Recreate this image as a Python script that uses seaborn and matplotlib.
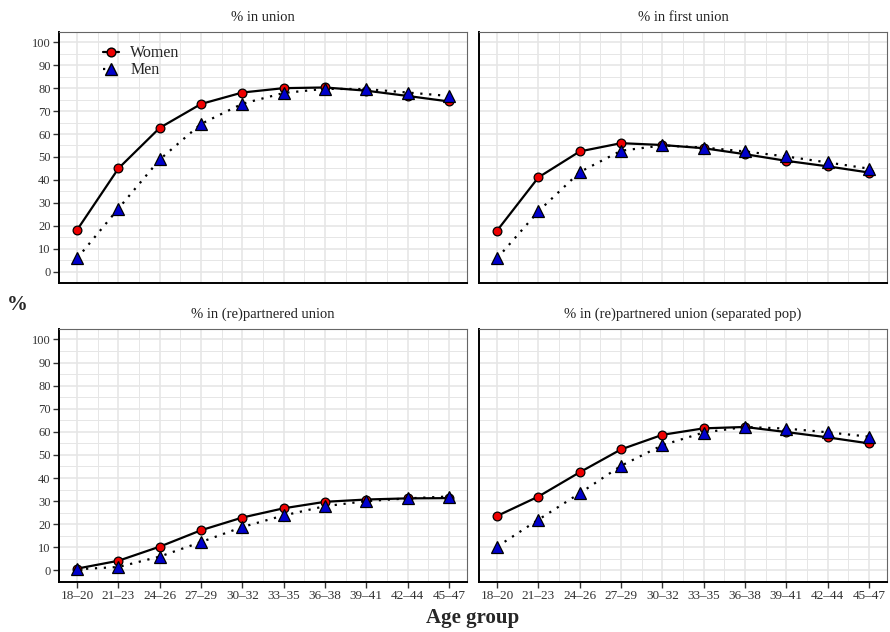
import matplotlib
matplotlib.use("Agg")
import matplotlib.pyplot as plt
from matplotlib.ticker import MultipleLocator
from matplotlib.lines import Line2D
import seaborn as sns
import pandas as pd
import numpy as np

sns.set_theme(style="white")
plt.rcParams['font.family'] = ['Liberation Serif', 'DejaVu Serif']

age_groups = ["18–20", "21–23", "24–26", "27–29", "30–32", "33–35", "36–38", "39–41", "42–44", "45–47"]
panel_titles = ["% in union", "% in first union", "% in (re)partnered union",
                "% in (re)partnered union (separated pop)"]

union_women = [18.2, 45.0, 62.7, 73.1, 78.1, 80.0, 80.3, 78.9, 76.6, 74.2]
union_men = [5.8, 27.5, 48.9, 64.4, 73.2, 77.9, 79.7, 79.6, 78.1, 76.6]
first_women = [17.9, 41.1, 52.4, 56.0, 55.2, 53.8, 51.2, 48.3, 45.9, 43.2]
first_men = [5.8, 26.3, 43.4, 52.7, 55.0, 54.1, 52.4, 50.2, 47.6, 44.9]
repart_women = [0.8, 4.2, 10.3, 17.4, 22.9, 26.9, 29.7, 30.7, 31.2, 31.3]
repart_men = [0.5, 1.5, 6.0, 12.3, 18.8, 23.8, 27.8, 30.0, 31.2, 32.0]
sep_women = [23.6, 32.0, 42.5, 52.4, 58.7, 61.5, 62.1, 59.9, 57.6, 55.0]
sep_men = [10.3, 22.0, 33.4, 45.3, 54.2, 59.7, 62.1, 61.4, 59.8, 57.9]

series = [(union_women, union_men), (first_women, first_men),
          (repart_women, repart_men), (sep_women, sep_men)]

fig = plt.figure(figsize=(8.9, 6.32), dpi=100)
W, H = 890, 632
boxes = [(59, 32, 467, 283), (479, 32, 887, 283),
         (59, 329, 467, 582), (479, 329, 887, 582)]

grid_col = "#e6e6e6"
CIRC = 6.3
TRI = 8.2
for i, (box, title, (w, m)) in enumerate(zip(boxes, panel_titles, series)):
    l, t, r, b = box
    ax = fig.add_axes([l / W, 1 - b / H, (r - l) / W, (b - t) / H])
    df = pd.DataFrame({"pos": np.arange(len(age_groups)), "Women": w, "Men": m})
    sns.lineplot(data=df, x="pos", y="Women", ax=ax, color="black", lw=1.6,
                 marker="o", markersize=CIRC, markerfacecolor="#ee0000",
                 markeredgecolor="black", markeredgewidth=0.9, zorder=3)
    sns.lineplot(data=df, x="pos", y="Men", ax=ax, color="black", lw=1.6,
                 linestyle=(0, (1, 3)), marker="^", markersize=TRI,
                 markerfacecolor="#0000cc", markeredgecolor="black",
                 markeredgewidth=0.9, zorder=4)
    ax.set_xlim(-0.44, 9.44)
    ax.set_ylim(-5, 104.5)
    ax.set_xticks(np.arange(len(age_groups)))
    ax.xaxis.set_minor_locator(MultipleLocator(0.5))
    ax.yaxis.set_major_locator(MultipleLocator(10))
    ax.yaxis.set_minor_locator(MultipleLocator(5))
    ax.grid(which="major", color=grid_col, lw=1.2)
    ax.grid(which="minor", color=grid_col, lw=0.7)
    ax.set_axisbelow(True)
    ax.set_xlabel("")
    ax.set_ylabel("")
    for s in ax.spines.values():
        s.set_color("#666666")
        s.set_linewidth(0.8)
        s.set_visible(True)
    ax.spines["left"].set_color("black")
    ax.spines["bottom"].set_color("black")
    ax.spines["left"].set_linewidth(1.4)
    ax.spines["bottom"].set_linewidth(1.4)
    ax.tick_params(which="minor", length=0)
    if i >= 2:
        ax.set_xticklabels(age_groups)
        ax.tick_params(axis="x", which="major", length=4, width=1, color="#333333",
                       labelsize=9.5, labelcolor="#333333", pad=2, bottom=True)
    else:
        ax.tick_params(axis="x", which="major", length=0, labelbottom=False)
    if i % 2 == 0:
        ax.tick_params(axis="y", which="major", length=4, width=1, color="#333333",
                       labelsize=9, labelcolor="#333333", pad=2, left=True)
    else:
        ax.tick_params(axis="y", which="major", length=0, labelleft=False)
    ax.set_title(title, fontsize=10.5, color="#222222", pad=8)
    if i == 0:
        handles = [Line2D([], [], color="black", lw=1.6, marker="o", markersize=CIRC,
                          markerfacecolor="#ee0000", markeredgecolor="black"),
                   Line2D([], [], color="black", lw=1.6, linestyle=(0, (1, 3)),
                          marker="^", markersize=TRI, markerfacecolor="#0000cc",
                          markeredgecolor="black")]
        ax.legend(handles, ["Women", "Men"], loc="upper left",
                  bbox_to_anchor=(0.085, 0.985), frameon=False, fontsize=11.5,
                  handlelength=1.0, handletextpad=0.7, labelspacing=0.05,
                  borderaxespad=0.2)

fig.text(17 / W, 1 - 305 / H, "%", fontsize=15, fontweight="bold", ha="center", va="center")
fig.text(473 / W, 1 - 618 / H, "Age group", fontsize=15, fontweight="bold", ha="center", va="center")

fig.savefig("out.png", dpi=100)
